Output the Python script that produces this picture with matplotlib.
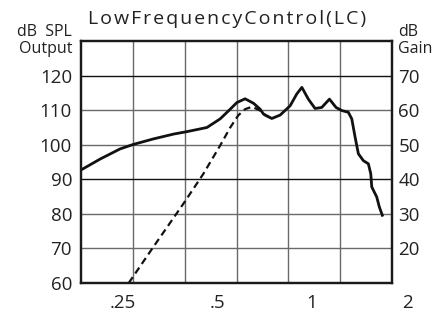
import matplotlib
matplotlib.use("Agg")
import matplotlib.pyplot as plt
import matplotlib.transforms as mtransforms

plt.rcParams['font.family'] = ['Open Sans', 'DejaVu Sans']

# Output curve (kHz, dB SPL)
out_freq = [0.184, 0.213, 0.246, 0.271, 0.314, 0.364, 0.401, 0.464, 0.511, 0.550,
            0.577, 0.613, 0.652, 0.684, 0.701, 0.745, 0.792, 0.852, 0.894, 0.928,
            0.973, 1.022, 1.073, 1.135, 1.191, 1.242, 1.303, 1.336, 1.369, 1.402,
            1.454, 1.508, 1.535, 1.546, 1.603, 1.634, 1.670]
out_spl = [92.6, 95.9, 98.8, 100.1, 101.7, 103.1, 103.8, 105.0, 107.5, 110.3,
           112.2, 113.3, 112.0, 110.3, 108.9, 107.6, 108.6, 111.3, 114.7, 116.6,
           113.2, 110.5, 110.8, 113.2, 110.8, 109.9, 109.4, 107.5, 102.2, 97.4,
           95.4, 94.5, 91.6, 87.8, 84.9, 82.0, 79.6]

# LC curve (dashed)
lc_freq = [0.262, 0.314, 0.391, 0.452, 0.511, 0.550, 0.583, 0.613, 0.645, 0.684, 0.710, 0.745]
lc_spl = [60.0, 70.5, 83.0, 91.6, 99.8, 105.0, 108.5, 110.3, 111.0, 109.9, 108.5, 107.6]

freq_ticks = [0.25, 0.5, 1, 2]
freq_labels = ['.25', '.5', '1', '2']
spl_ticks = [60, 70, 80, 90, 100, 110, 120]
gain_ticks = [20, 30, 40, 50, 60, 70]
dark_grid = [90, 120]
title = 'LowFrequencyControl(LC)'

xmin, xmax = 0.185, 1.793

fig = plt.figure(figsize=(4.43, 3.16), dpi=100)
ax = fig.add_axes([0.183, 0.1044, 0.702, 0.7656])
ax.set_xscale('log')
ax.set_xlim(xmin, xmax)
ax.set_ylim(60, 130)

# grid
for k in range(1, 6):
    ax.axvline(xmin * (xmax / xmin) ** (k / 6), color='#6a6a6a', lw=1.0, zorder=1)
for v in spl_ticks[1:]:
    ax.axhline(v, color='#111111' if v in dark_grid else '#6a6a6a', lw=1.0, zorder=1)

ax.plot(out_freq, out_spl, color='#111111', lw=2.0, solid_joinstyle='round', zorder=3)
ax.plot(lc_freq, lc_spl, color='#111111', lw=1.6, dashes=(3.2, 2.0), zorder=3)

ax.xaxis.set_major_locator(matplotlib.ticker.NullLocator())
ax.xaxis.set_minor_locator(matplotlib.ticker.NullLocator())
ax.set_yticks(spl_ticks)
ax.set_yticklabels([str(v) for v in spl_ticks])
ax.tick_params(axis='y', length=0, pad=6.5, labelsize=13.5, colors='#222222')

trans = mtransforms.blended_transform_factory(ax.transData, ax.transAxes)
for f, lab in zip(freq_ticks, freq_labels):
    ax.text(f, -0.083, lab, transform=trans, ha='center', va='center',
            fontsize=13.5, color='#222222', clip_on=False)

ax2 = ax.twinx()
ax2.set_ylim(10, 80)
ax2.set_yticks(gain_ticks)
ax2.set_yticklabels([str(v) for v in gain_ticks])
ax2.tick_params(axis='y', length=0, pad=4.5, labelsize=13.5, colors='#222222')

for a in (ax, ax2):
    for s in a.spines.values():
        s.set_linewidth(1.6)
        s.set_color('#1a1a1a')

# letter-spaced title
fig.text(0.512, 0.94, '\u200a'.join(title), ha='center', va='center',
         fontsize=14, color='#222222')
fig.text(0.162, 0.900, 'dB  SPL', ha='right', va='center', fontsize=11.5, color='#222222')
fig.text(0.164, 0.845, 'Output', ha='right', va='center', fontsize=11.5, color='#222222')
fig.text(0.898, 0.900, 'dB', ha='left', va='center', fontsize=11.5, color='#222222')
fig.text(0.898, 0.845, 'Gain', ha='left', va='center', fontsize=11.5, color='#222222')

fig.savefig('out.png', dpi=100)
